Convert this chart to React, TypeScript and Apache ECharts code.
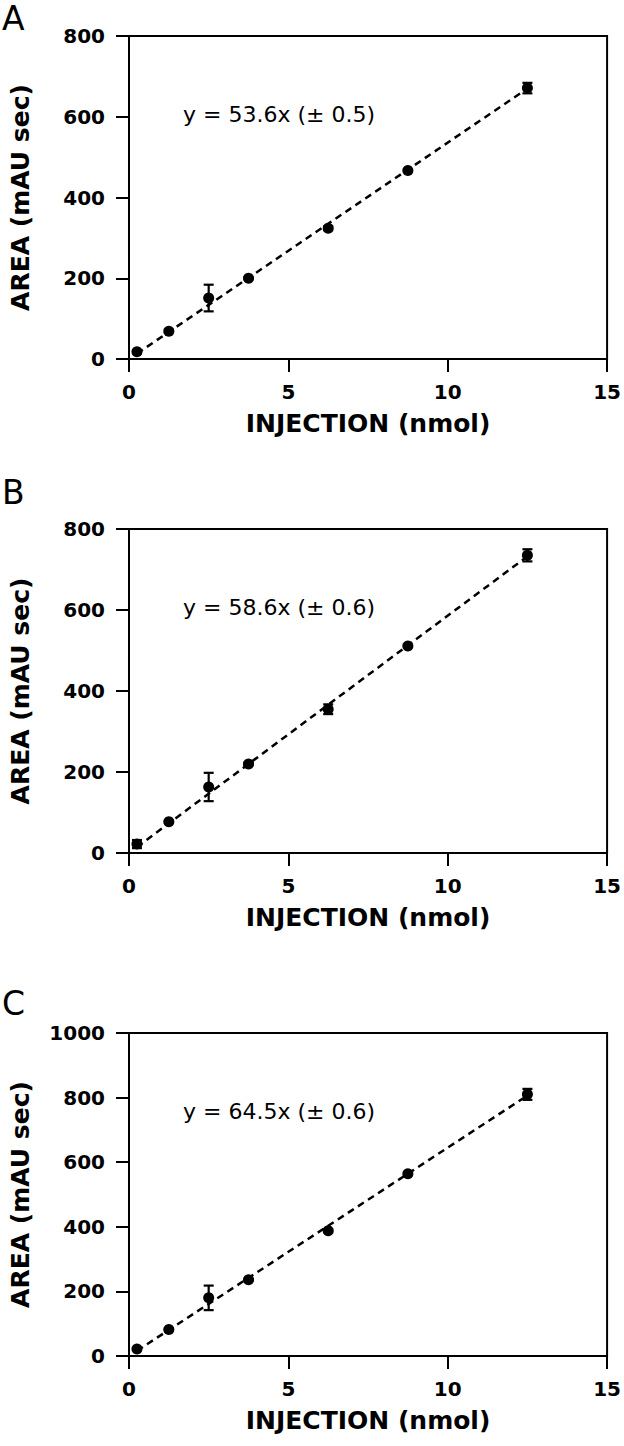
import React, { useEffect, useRef } from "react";
import * as echarts from "echarts";

const xValues = [0.25, 1.25, 2.5, 3.75, 6.25, 8.75, 12.5];

const meanA = [18, 69, 151, 200, 324, 467, 671];
const errA = [4, 4, 33, 3, 5, 3, 13];
const meanB = [22, 77, 163, 220, 355, 511, 735];
const errB = [10, 3, 35, 3, 12, 3, 15];
const meanC = [22, 82, 180, 236, 388, 564, 810];
const errC = [3, 3, 38, 3, 5, 4, 17];

const fitA = [[0.25, 13.4], [12.5, 670]];
const fitB = [[0.25, 14.65], [12.5, 732.5]];
const fitC = [[0.25, 16.1], [12.5, 806.3]];

const equations = ["y = 53.6x (\u00b1 0.5)", "y = 58.6x (\u00b1 0.6)", "y = 64.5x (\u00b1 0.6)"];
const panelLetters = ["A", "B", "C"];
const yMaxes = [800, 800, 1000];
const xTicks = { min: 0, max: 15, interval: 5 };

const FONT = "'DejaVu Sans', 'Liberation Sans', sans-serif";

export default function App() {
  const ref = useRef<HTMLDivElement>(null);
  useEffect(() => {
    if (!ref.current) return;
    const chart = echarts.init(ref.current, undefined, { renderer: "svg" });
    const grids = [
      { left: 125, width: 486, top: 36, height: 323 },
      { left: 125, width: 486, top: 529, height: 324 },
      { left: 125, width: 486, top: 1033, height: 323 },
    ];
    const means = [meanA, meanB, meanC];
    const errs = [errA, errB, errC];
    const fits = [fitA, fitB, fitC];

    const axisLabelStyle = { color: "#000", fontFamily: FONT, fontWeight: "bold", fontSize: 20 };
    const nameStyle = { color: "#000", fontFamily: FONT, fontWeight: "bold", fontSize: 25 };

    const xAxis = grids.map((_, i) => ({
      type: "value",
      gridIndex: i,
      min: xTicks.min,
      max: xTicks.max,
      interval: xTicks.interval,
      name: "INJECTION (nmol)",
      nameLocation: "middle",
      nameGap: 52,
      nameTextStyle: nameStyle,
      axisLine: { show: true, lineStyle: { color: "#000", width: 2 } },
      axisTick: { show: true, inside: false, length: 13, lineStyle: { color: "#000", width: 2 } },
      axisLabel: { ...axisLabelStyle, margin: 23, formatter: (v: number) => String(v) },
      splitLine: { show: false },
    }));
    const yAxis = grids.map((_, i) => ({
      type: "value",
      gridIndex: i,
      min: 0,
      max: yMaxes[i],
      interval: 200,
      name: "AREA (mAU sec)",
      nameLocation: "middle",
      nameGap: 96,
      nameTextStyle: nameStyle,
      axisLine: { show: true, lineStyle: { color: "#000", width: 2 } },
      axisTick: { show: true, inside: false, length: 13, lineStyle: { color: "#000", width: 2 } },
      axisLabel: { ...axisLabelStyle, margin: 24, formatter: (v: number) => String(v) },
      splitLine: { show: false },
    }));

    const series: any[] = [];
    grids.forEach((_, i) => {
      series.push({
        type: "line",
        xAxisIndex: i,
        yAxisIndex: i,
        data: fits[i],
        showSymbol: false,
        symbol: "none",
        lineStyle: { color: "#000", width: 2.5, type: [7, 5], opacity: 1 },
        z: 2,
        silent: true,
      });
      series.push({
        type: "custom",
        xAxisIndex: i,
        yAxisIndex: i,
        data: xValues.map((x, k) => [x, means[i][k] - errs[i][k], means[i][k] + errs[i][k]]),
        encode: { x: 0, y: [1, 2] },
        z: 3,
        renderItem: (params: any, api: any) => {
          const x = api.value(0);
          const p1 = api.coord([x, api.value(1)]);
          const p2 = api.coord([x, api.value(2)]);
          const w = 5;
          const st = { stroke: "#000", lineWidth: 2.2 };
          return {
            type: "group",
            children: [
              { type: "line", shape: { x1: p1[0], y1: p1[1], x2: p2[0], y2: p2[1] }, style: st },
              { type: "line", shape: { x1: p1[0] - w, y1: p1[1], x2: p1[0] + w, y2: p1[1] }, style: st },
              { type: "line", shape: { x1: p2[0] - w, y1: p2[1], x2: p2[0] + w, y2: p2[1] }, style: st },
            ],
          };
        },
      });
      series.push({
        type: "scatter",
        xAxisIndex: i,
        yAxisIndex: i,
        data: xValues.map((x, k) => [x, means[i][k]]),
        symbol: "circle",
        symbolSize: 11,
        itemStyle: { color: "#000", opacity: 1 },
        z: 4,
      });
    });

    const letterY = [18, 492, 1003];
    const graphic: any[] = [];
    grids.forEach((g, i) => {
      graphic.push({
        type: "text",
        x: 2,
        y: letterY[i],
        style: {
          text: panelLetters[i],
          font: `33px ${FONT}`,
          fill: "#000",
          textVerticalAlign: "middle",
          verticalAlign: "middle",
        },
      });
      graphic.push({
        type: "text",
        x: 183,
        y: g.top + 78,
        style: {
          text: equations[i],
          font: `22px ${FONT}`,
          fill: "#000",
          textVerticalAlign: "middle",
          verticalAlign: "middle",
        },
      });
    });

    chart.setOption({
      animation: false,
      backgroundColor: "#fff",
      grid: grids.map((g) => ({ ...g, show: true, borderColor: "#000", borderWidth: 2, backgroundColor: "transparent" })),
      xAxis,
      yAxis,
      series,
      graphic,
    });
    return () => chart.dispose();
  }, []);
  return (
    <div
      ref={ref}
      style={{ position: "absolute", left: 0, top: 0, width: 624, height: 1446, background: "#fff" }}
    />
  );
}
